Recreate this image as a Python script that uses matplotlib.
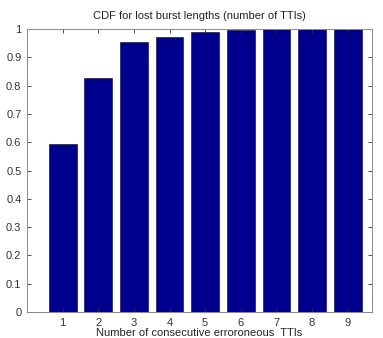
import matplotlib.pyplot as plt

plt.rcParams['font.family'] = ['Liberation Sans', 'DejaVu Sans']

# burst length vs cumulative probability
burst_len = [1, 2, 3, 4, 5, 6, 7, 8, 9]
cdf = [0.595, 0.828, 0.953, 0.971, 0.988, 0.996, 1.0, 1.0, 1.0]
yticks = [0, 0.1, 0.2, 0.3, 0.4, 0.5, 0.6, 0.7, 0.8, 0.9, 1]
ytick_labels = ['0', '0.1', '0.2', '0.3', '0.4', '0.5', '0.6', '0.7', '0.8', '0.9', '1']

fig = plt.figure(figsize=(3.83, 3.38), dpi=100)
ax = fig.add_axes([0.0705, 0.077, 0.9005, 0.837])

ax.bar(burst_len, cdf, width=0.78, color='#00008f', edgecolor='#000040', linewidth=0.4)

ax.set_xlim(0, 9.68)
ax.set_ylim(0, 1)
ax.set_xticks(burst_len)
ax.set_yticks(yticks)
ax.set_yticklabels(ytick_labels)
ax.tick_params(direction='in', length=3, width=0.6, labelsize=8, colors='#333333',
               top=True, right=True, pad=4)
for s in ax.spines.values():
    s.set_color('#888888')
    s.set_linewidth(0.7)

ax.set_title('CDF for lost burst lengths (number of TTIs)', fontsize=8, pad=7, color='#222222')
ax.set_xlabel('Number of consecutive erroroneous  TTIs', fontsize=8, labelpad=0, color='#222222')

plt.savefig('out.png', dpi=100)
plt.close()
